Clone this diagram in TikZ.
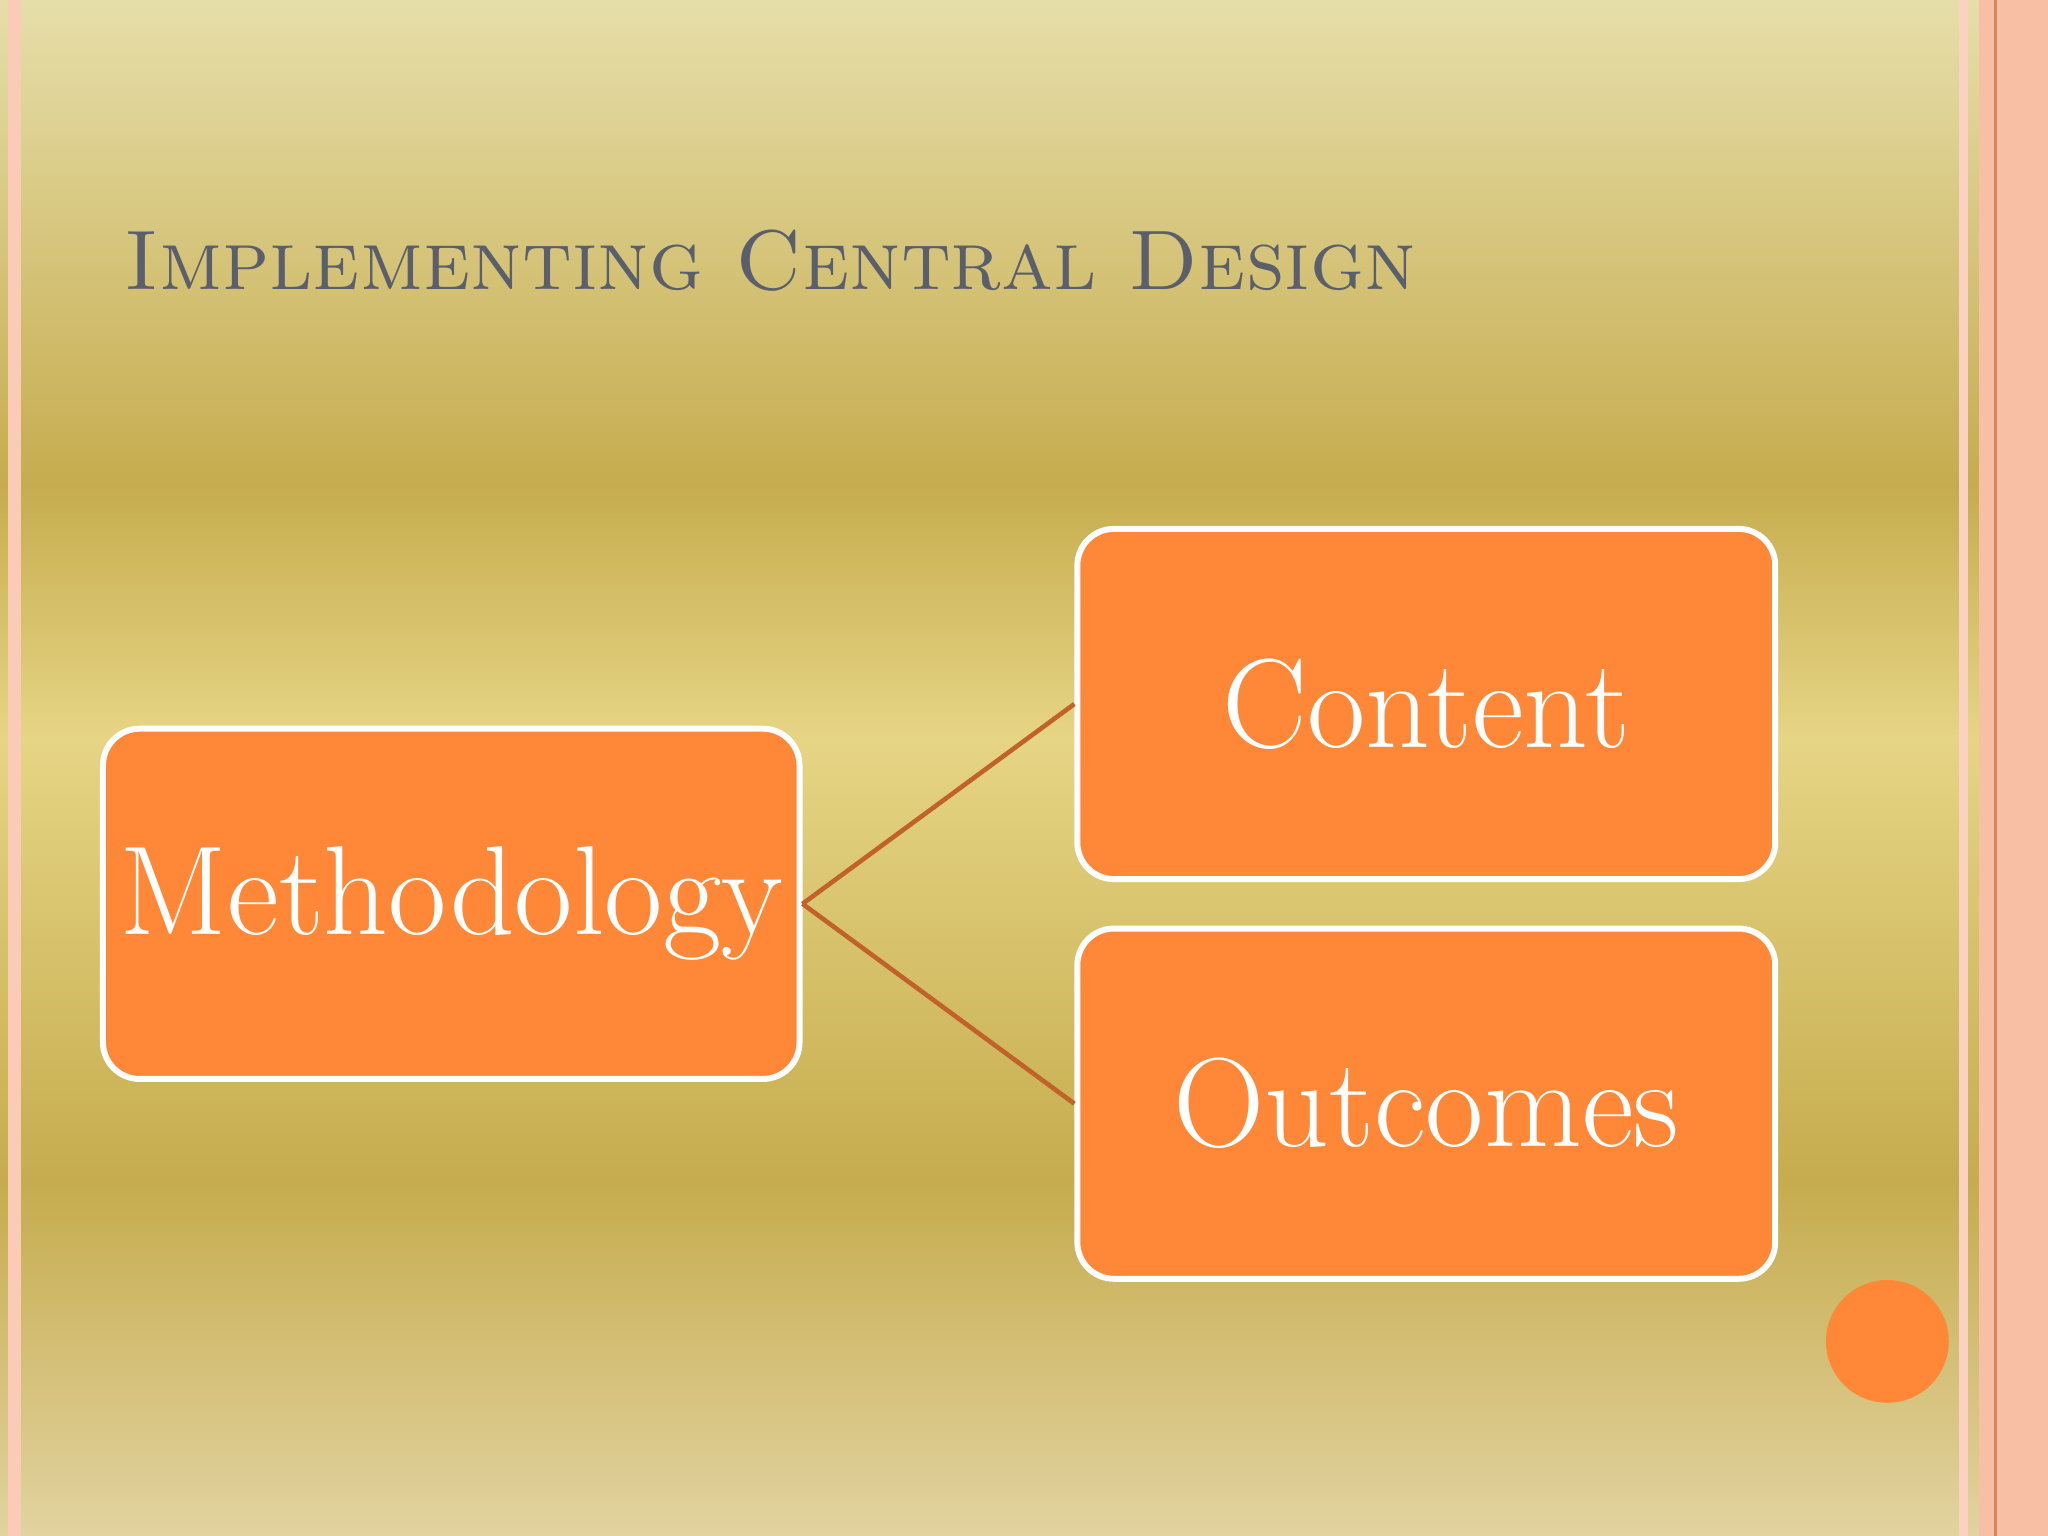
\documentclass[tikz,border=0pt]{standalone}
\usepackage{fontspec}
\begin{document}
\begin{tikzpicture}[x=0.01cm,y=-0.01cm,
  box/.style={draw=white,line width=1.3pt,fill=boxor,rounded corners=0.28cm,text=white,inner sep=0pt,font=\fontsize{27.6}{32}\selectfont},
  conn/.style={draw=lineor,line width=1pt}]
\definecolor{boxor}{HTML}{FF8838}
\definecolor{lineor}{HTML}{C0622A}
\definecolor{gA}{HTML}{E6DEAA}
\definecolor{gB}{HTML}{C6AC4E}
\definecolor{gC}{HTML}{E6D585}
\definecolor{gD}{HTML}{E2D3A0}
\definecolor{pinkb}{HTML}{F9BFA5}
\definecolor{titleg}{HTML}{5A5F6B}
\useasboundingbox (0,0) rectangle (1568,1176);
\shade[top color=gA,bottom color=gB] (0,0) rectangle (1568,372);
\shade[top color=gB,bottom color=gC] (0,371) rectangle (1568,565);
\shade[top color=gC,bottom color=gB] (0,564) rectangle (1568,905);
\shade[top color=gB,bottom color=gD] (0,904) rectangle (1568,1176);
\fill[pinkb] (1515,0) rectangle (1568,1176);
\fill[pinkb!70] (1500,0) rectangle (1507,1176);
\draw[lineor!60!pinkb,line width=0.6pt] (1528,0) -- (1528,1176);
\fill[pinkb!80] (6,0) rectangle (16,1176);
\node[anchor=base west,text=titleg,font=\fontsize{18.4}{22}\selectfont\scshape,inner sep=0] (title) at (95,222) {Implementing Central Design};
\node[box,minimum width=5.33cm,minimum height=2.68cm] (m) at (345.5,692) {Methodology};
\node[box,minimum width=5.34cm,minimum height=2.68cm] (c) at (1092,539) {Content};
\node[box,minimum width=5.34cm,minimum height=2.68cm] (o) at (1092,845) {Outcomes};
\draw[conn] (m.east) -- (c.west);
\draw[conn] (m.east) -- (o.west);
\node[circle,fill=boxor,minimum size=0.94cm,inner sep=0] (dot) at (1445,1027) {};
\end{tikzpicture}
\end{document}
